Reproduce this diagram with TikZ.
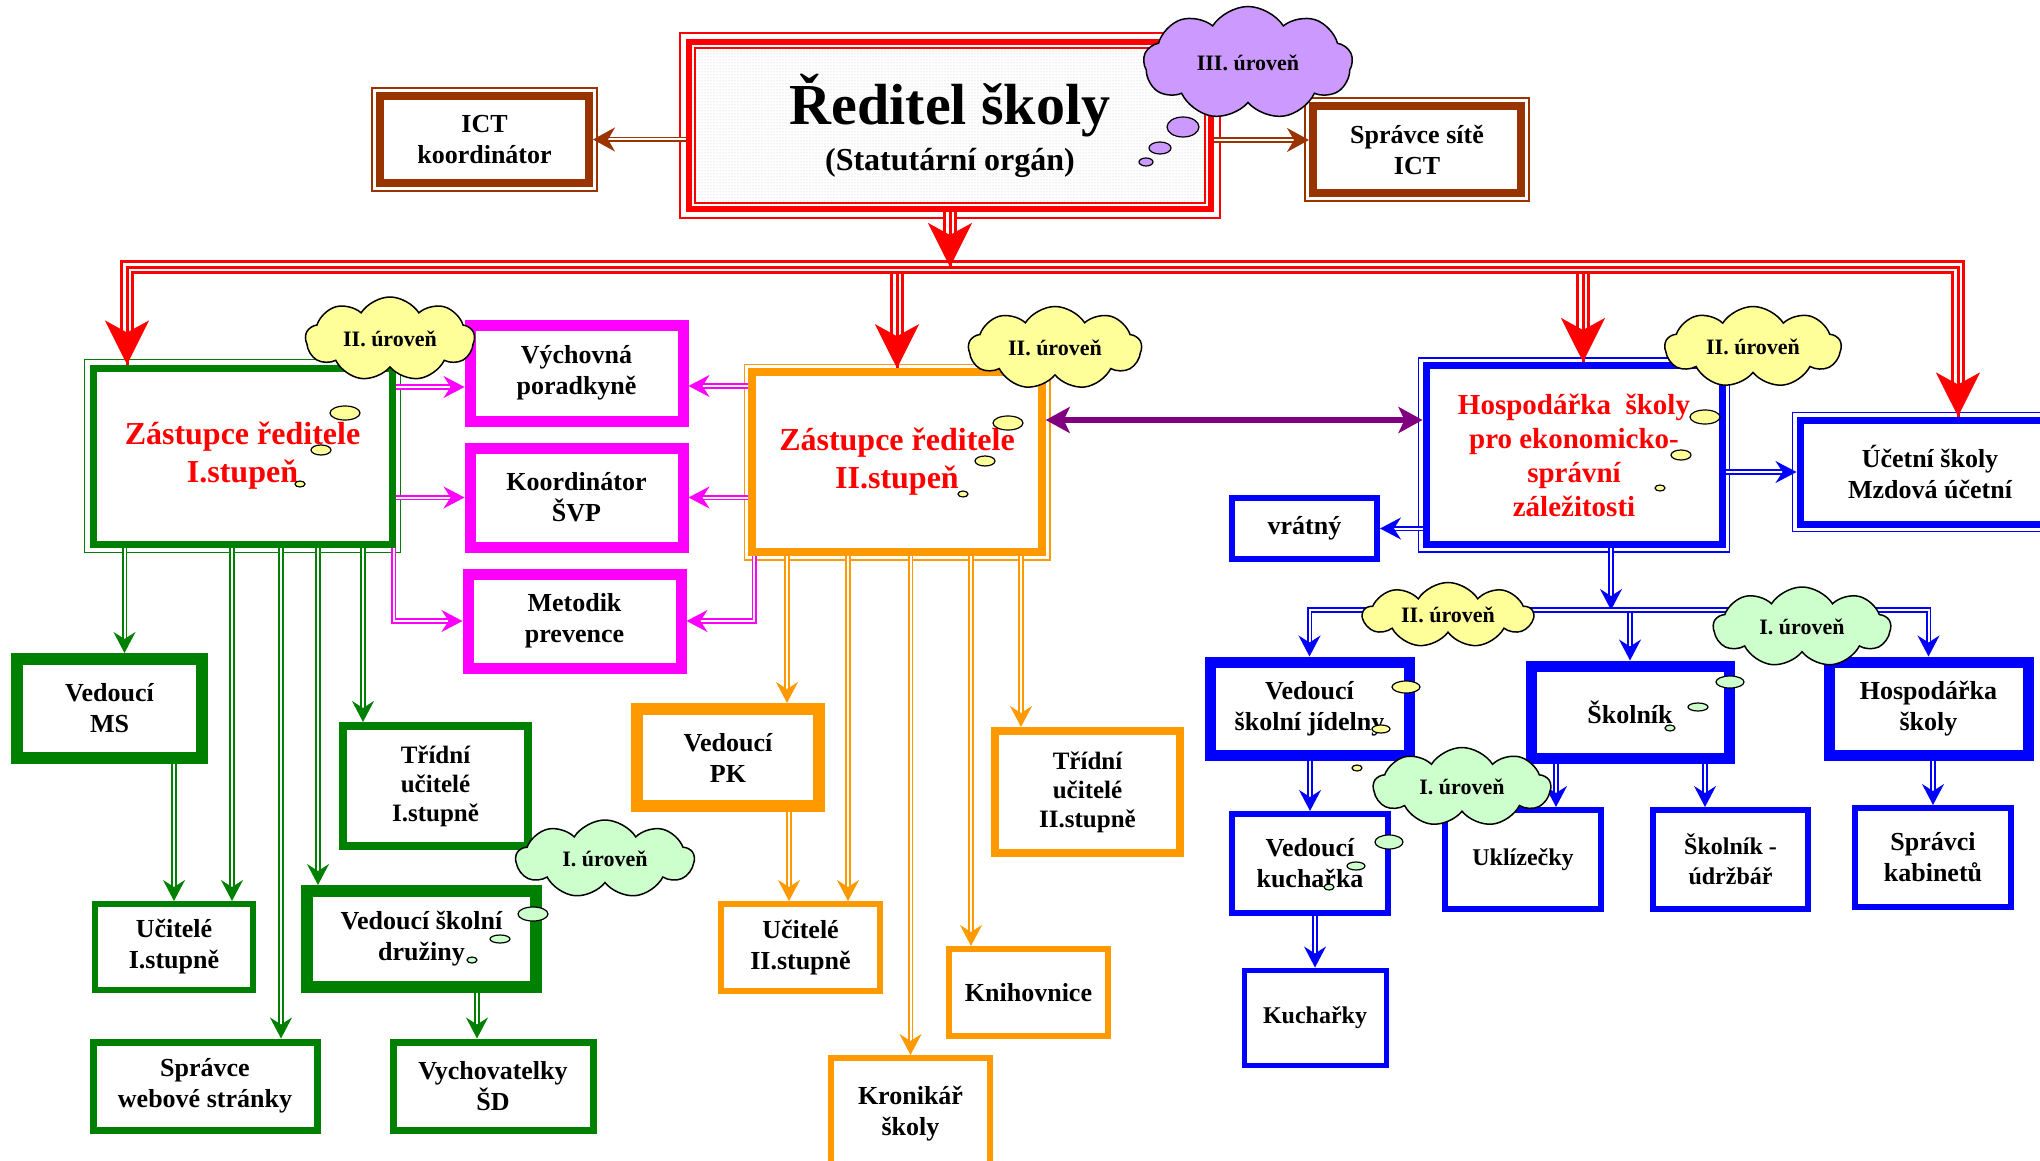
\documentclass[tikz,border=0pt]{standalone}
\usepackage{fontspec}
\setmainfont{Liberation Serif}
\usetikzlibrary{arrows.meta,shapes.symbols,patterns}

\definecolor{dkgreen}{HTML}{008000}
\definecolor{orng}{HTML}{FF9900}
\definecolor{brwn}{HTML}{993300}
\definecolor{purp}{HTML}{800080}
\definecolor{mgnt}{HTML}{FF00FF}
\definecolor{cloudy}{HTML}{FFFF99}
\definecolor{cloudg}{HTML}{CCFFCC}
\definecolor{cloudl}{HTML}{CC99FF}

\tikzset{
  box/.style={draw, fill=white, align=center, inner sep=0pt, font=\fontsize{26}{31}\selectfont\bfseries},
  redbox/.style={box, text=red, font=\fontsize{32}{38}\selectfont\bfseries},
  dbl/.style={line width=1.6pt, double=white, double distance=2pt, -{Stealth[length=21pt, width=22pt, inset=7pt]}},
  dbl2/.style={line width=1.6pt, double=white, double distance=2pt, {Stealth[length=21pt, width=22pt, inset=7pt]}-{Stealth[length=21pt, width=22pt, inset=7pt]}},
  redtri/.style={draw=red, line width=3pt, double=white, double distance=8pt, postaction={draw=red, line width=3pt, arrows=-}},
  bigtip/.style={-{Stealth[length=44pt, width=44pt, inset=12pt]}},
  bigtips/.style={{Stealth[length=44pt, width=44pt, inset=12pt]}-{Stealth[length=44pt, width=44pt, inset=12pt]}},
  wolke/.style={cloud, draw=black, line width=1.5pt, cloud puffs=9, cloud puff arc=115, cloud ignores aspect, inner sep=0pt, font=\fontsize{22}{24}\selectfont\bfseries},
  bubble/.style={draw=black, line width=1.2pt}
}

\begin{document}
\begin{tikzpicture}[x=1pt, y=-1pt]
\useasboundingbox (0,0) rectangle (2040,1161);
\fill[white] (0,0) rectangle (2040,1161);

\node[box, draw=red, line width=6pt, pattern=dots, pattern color=gray!45, minimum width=522pt, minimum height=167pt, font=\fontsize{32}{46}\selectfont\bfseries] (R) at (950,125.5) {{\fontsize{58}{58}\selectfont Ředitel školy}\\(Statutární orgán)};
\node[box, draw=brwn, line width=8pt, minimum width=209pt, minimum height=87pt] (ICT) at (484.5,139.5) {ICT\\koordinátor};
\node[box, draw=brwn, line width=8pt, minimum width=208pt, minimum height=87pt] (SPR) at (1417,149.5) {Správce sítě\\ICT};

\node[redbox, draw=dkgreen, line width=7pt, minimum width=299pt, minimum height=176pt] (ZI) at (242.5,456) {Zástupce ředitele\\I.stupeň};
\node[redbox, draw=orng, line width=7.5pt, minimum width=290pt, minimum height=180pt] (ZII) at (897,462) {Zástupce ředitele\\II.stupeň};
\node[redbox, draw=blue, line width=7pt, minimum width=296pt, minimum height=179pt, font=\fontsize{29}{34}\selectfont\bfseries] (HS) at (1574,455) {Hospodářka\ \ školy\\pro ekonomicko-\\správní\\záležitosti};
\node[box, draw=blue, line width=7pt, minimum width=260pt, minimum height=104pt] (UC) at (1930,472) {Účetní školy\\Mzdová účetní};
\node[box, draw=blue, line width=6pt, minimum width=145pt, minimum height=61pt] (VRA) at (1304.5,528.5) {vrátný};

\node[box, draw=mgnt, line width=11pt, minimum width=213pt, minimum height=96pt] (VP) at (576.5,373) {Výchovná\\poradkyně};
\node[box, draw=mgnt, line width=11pt, minimum width=213pt, minimum height=99pt] (KS) at (576.5,497.5) {Koordinátor\\ŠVP};
\node[box, draw=mgnt, line width=11pt, minimum width=213pt, minimum height=94pt] (MP) at (574.5,621) {Metodik\\prevence};

\node[box, draw=dkgreen, line width=12pt, minimum width=185pt, minimum height=99pt] (VMS) at (109.5,708.5) {Vedoucí\\MS};
\node[box, draw=dkgreen, line width=8pt, minimum width=185pt, minimum height=120pt, font=\fontsize{25}{29}\selectfont\bfseries] (TUI) at (435.5,786) {Třídní\\učitelé\\I.stupně};
\node[box, draw=dkgreen, line width=6pt, minimum width=158pt, minimum height=86pt] (UI) at (174,947) {Učitelé\\I.stupně};
\node[box, draw=dkgreen, line width=12pt, minimum width=229pt, minimum height=96pt] (VSD) at (421.5,939) {Vedoucí školní\\družiny};
\node[box, draw=dkgreen, line width=7pt, minimum width=224pt, minimum height=88pt] (SWS) at (205,1086) {Správce\\webové stránky};
\node[box, draw=dkgreen, line width=7pt, minimum width=200pt, minimum height=88pt] (VYS) at (493,1086) {Vychovatelky\\ŠD};

\node[box, draw=orng, line width=12pt, minimum width=182pt, minimum height=97pt] (VPK) at (728,757.5) {Vedoucí\\PK};
\node[box, draw=orng, line width=6pt, minimum width=159pt, minimum height=87pt] (UII) at (800.5,947.5) {Učitelé\\II.stupně};
\node[box, draw=orng, line width=6pt, minimum width=159pt, minimum height=112pt] (KRO) at (910.5,1114) {Kronikář\\školy};
\node[box, draw=orng, line width=6pt, minimum width=159pt, minimum height=87pt] (KNI) at (1028.5,992.5) {Knihovnice};
\node[box, draw=orng, line width=8pt, minimum width=185pt, minimum height=122pt, font=\fontsize{25}{29}\selectfont\bfseries] (TUII) at (1087.5,792) {Třídní\\učitelé\\II.stupně};

\node[box, draw=blue, line width=11pt, minimum width=199pt, minimum height=93pt] (VSJ) at (1309.5,708.5) {Vedoucí\\školní jídelny};
\node[box, draw=blue, line width=11pt, minimum width=198pt, minimum height=92pt] (SKO) at (1630,712) {Školník};
\node[box, draw=blue, line width=11pt, minimum width=199pt, minimum height=93pt] (HSS) at (1928.5,708.5) {Hospodářka\\školy};
\node[box, draw=blue, line width=6pt, minimum width=156pt, minimum height=99pt] (VKU) at (1310,863.5) {Vedoucí\\kuchařka};
\node[box, draw=blue, line width=6pt, minimum width=156pt, minimum height=99pt, font=\fontsize{24}{30}\selectfont\bfseries] (UKL) at (1523,859.5) {Uklízečky};
\node[box, draw=blue, line width=6pt, minimum width=155pt, minimum height=99pt, font=\fontsize{24}{30}\selectfont\bfseries] (SKU) at (1730.5,859.5) {Školník -\\údržbář};
\node[box, draw=blue, line width=6pt, minimum width=156pt, minimum height=99pt] (SPK) at (1933,857.5) {Správci\\kabinetů};
\node[box, draw=blue, line width=5pt, minimum width=142pt, minimum height=95pt, font=\fontsize{24}{30}\selectfont\bfseries] (KUC) at (1315,1017.5) {Kuchařky};

\draw[red, line width=2pt] ([xshift=-6pt,yshift=6pt]R.north west) rectangle ([xshift=6pt,yshift=-6pt]R.south east);
\draw[red, line width=2pt] ([xshift=9pt,yshift=-9pt]R.north west) rectangle ([xshift=-9pt,yshift=9pt]R.south east);
\draw[brwn, line width=1.5pt] ([xshift=-4pt,yshift=4pt]ICT.north west) rectangle ([xshift=4pt,yshift=-4pt]ICT.south east);
\draw[brwn, line width=1.5pt] ([xshift=-4pt,yshift=4pt]SPR.north west) rectangle ([xshift=4pt,yshift=-4pt]SPR.south east);
\draw[dkgreen, line width=1.5pt] ([xshift=-5pt,yshift=5pt]ZI.north west) rectangle ([xshift=5pt,yshift=-5pt]ZI.south east);
\draw[orng, line width=1.5pt] ([xshift=-4pt,yshift=4pt]ZII.north west) rectangle ([xshift=4pt,yshift=-4pt]ZII.south east);
\draw[blue, line width=1.5pt] ([xshift=-4pt,yshift=4pt]HS.north west) rectangle ([xshift=4pt,yshift=-4pt]HS.south east);
\draw[blue, line width=1.5pt] ([xshift=-4pt,yshift=4pt]UC.north west) rectangle ([xshift=4pt,yshift=-4pt]UC.south east);

\draw[brwn, dbl, -{Stealth[length=22pt, width=24pt, inset=7pt]}] (ICT.east -| R.west) -- (ICT.east);
\draw[brwn, dbl, -{Stealth[length=22pt, width=24pt, inset=7pt]}] ([yshift=-14.5pt]R.east) -- ([yshift=-14.5pt]R.east -| SPR.west);

\coordinate (busL) at (127,267);
\coordinate (busR) at (1958,267);
\coordinate (busB) at (127,274);
\draw[redtri, bigtips] (busL |- ZI.north) -- (busL) -- (busR) -- (busR |- UC.north);
\draw[redtri, bigtip] (R.south) -- (R.south |- busL);
\draw[redtri, bigtip] (ZII.north |- busB) -- (ZII.north);
\draw[redtri, bigtip] ([xshift=9pt]HS.north |- busB) -- ([xshift=9pt]HS.north);

\draw[mgnt, dbl] ([yshift=-14pt]ZI.east |- VP.west) -- ([yshift=-14pt]VP.west);
\draw[mgnt, dbl] (ZI.east |- KS.west) -- (KS.west);
\draw[mgnt, dbl] ([xshift=-2pt]ZI.south east) |- (MP.west);
\draw[mgnt, dbl] ([yshift=-13pt]ZII.west |- VP.east) -- ([yshift=-13pt]VP.east);
\draw[mgnt, dbl] (ZII.west |- KS.east) -- (KS.east);
\draw[mgnt, dbl] ([xshift=6pt]ZII.south west) |- (MP.east);

\draw[dkgreen, dbl] ([xshift=15pt]VMS.north |- ZI.south) -- ([xshift=15pt]VMS.north);
\draw[dkgreen, dbl] (UI.north |- VMS.south) -- (UI.north);
\draw[dkgreen, dbl] ([xshift=58pt]UI.north |- ZI.south) -- ([xshift=58pt]UI.north);
\draw[dkgreen, dbl] ([xshift=76pt]SWS.north |- ZI.south) -- ([xshift=76pt]SWS.north);
\draw[dkgreen, dbl] ([xshift=-103.5pt]VSD.north |- ZI.south) -- ([xshift=-103.5pt]VSD.north);
\draw[dkgreen, dbl] ([xshift=-72.5pt]TUI.north |- ZI.south) -- ([xshift=-72.5pt]TUI.north);
\draw[dkgreen, dbl] ([xshift=-16pt]VYS.north |- VSD.south) -- ([xshift=-16pt]VYS.north);

\draw[orng, dbl] ([xshift=59pt]VPK.north |- ZII.south) -- ([xshift=59pt]VPK.north);
\draw[orng, dbl] ([xshift=-11.5pt]UII.north |- VPK.south) -- ([xshift=-11.5pt]UII.north);
\draw[orng, dbl] ([xshift=47.5pt]UII.north |- ZII.south) -- ([xshift=47.5pt]UII.north);
\draw[orng, dbl] (KRO.north |- ZII.south) -- (KRO.north);
\draw[orng, dbl] ([xshift=-57.5pt]KNI.north |- ZII.south) -- ([xshift=-57.5pt]KNI.north);
\draw[orng, dbl] ([xshift=-66.5pt]TUII.north |- ZII.south) -- ([xshift=-66.5pt]TUII.north);

\draw[purp, line width=6pt, {Stealth[length=24pt, width=26pt, inset=6pt]}-{Stealth[length=24pt, width=26pt, inset=6pt]}] ([yshift=42pt]ZII.east) -- ([yshift=42pt]ZII.east -| HS.west);

\coordinate (bbus) at (1611,610);
\draw[blue, dbl] (HS.east |- UC.west) -- (UC.west);
\draw[blue, dbl] (HS.west |- VRA.east) -- (VRA.east);
\draw[blue, dbl] (HS.south -| bbus) -- (bbus);
\draw[blue, dbl2] (VSJ.north) |- (bbus) -| (HSS.north);
\draw[blue, dbl] ([yshift=-3pt]SKO.north |- bbus) -- (SKO.north);
\draw[blue, dbl] (VKU.north |- VSJ.south) -- (VKU.north);
\draw[blue, dbl] ([xshift=33pt]UKL.north |- SKO.south) -- ([xshift=33pt]UKL.north);
\draw[blue, dbl] ([xshift=-25.5pt]SKU.north |- SKO.south) -- ([xshift=-25.5pt]SKU.north);
\draw[blue, dbl] (SPK.north |- HSS.south) -- (SPK.north);
\draw[blue, dbl] (KUC.north |- VKU.south) -- (KUC.north);

\node[wolke, fill=cloudl, minimum width=209pt, minimum height=113pt] (W0) at (1248,63) {III. úroveň};
\node[wolke, fill=cloudy, minimum width=169pt, minimum height=84pt] (W1) at (390,339) {II. úroveň};
\node[wolke, fill=cloudy, minimum width=173pt, minimum height=83pt] (W2) at (1055,348) {II. úroveň};
\node[wolke, fill=cloudy, minimum width=176pt, minimum height=81pt] (W3) at (1753,347) {II. úroveň};
\node[wolke, fill=cloudy, minimum width=170pt, minimum height=65pt] (W4) at (1448,615) {II. úroveň};
\node[wolke, fill=cloudg, minimum width=177pt, minimum height=80pt] (W5) at (1802,627) {I. úroveň};
\node[wolke, fill=cloudg, minimum width=177pt, minimum height=79pt] (W6) at (1462,787) {I. úroveň};
\node[wolke, fill=cloudg, minimum width=178pt, minimum height=78pt] (W7) at (605,859) {I. úroveň};

\draw[bubble, fill=cloudl] (1183,127) ellipse (16 and 10);
\draw[bubble, fill=cloudl] (1160,148) ellipse (11 and 6);
\draw[bubble, fill=cloudl] (1146,162) ellipse (7 and 4);
\draw[bubble, fill=cloudy] (345,413) ellipse (15 and 7);
\draw[bubble, fill=cloudy] (321,450) ellipse (10 and 5);
\draw[bubble, fill=cloudy] (300,484) ellipse (5 and 3);
\draw[bubble, fill=cloudy] (1008,423) ellipse (15 and 7);
\draw[bubble, fill=cloudy] (985,461) ellipse (10 and 5);
\draw[bubble, fill=cloudy] (963,494) ellipse (5 and 3);
\draw[bubble, fill=cloudy] (1705,417) ellipse (15 and 7);
\draw[bubble, fill=cloudy] (1681,455) ellipse (10 and 5);
\draw[bubble, fill=cloudy] (1660,488) ellipse (5 and 3);
\draw[bubble, fill=cloudy] (1406,687) ellipse (14 and 6);
\draw[bubble, fill=cloudy] (1381,729) ellipse (9 and 4);
\draw[bubble, fill=cloudy] (1357,768) ellipse (5 and 3);
\draw[bubble, fill=cloudg] (1730,682) ellipse (14 and 6);
\draw[bubble, fill=cloudg] (1698,707) ellipse (10 and 4);
\draw[bubble, fill=cloudg] (1670,728) ellipse (5 and 3);
\draw[bubble, fill=cloudg] (1389,842) ellipse (14 and 7);
\draw[bubble, fill=cloudg] (1356,866) ellipse (9 and 4);
\draw[bubble, fill=cloudg] (1329,887) ellipse (5 and 3);
\draw[bubble, fill=cloudg] (533,914) ellipse (15 and 7);
\draw[bubble, fill=cloudg] (500,939) ellipse (10 and 4);
\draw[bubble, fill=cloudg] (472,960) ellipse (5 and 3);
\end{tikzpicture}
\end{document}
